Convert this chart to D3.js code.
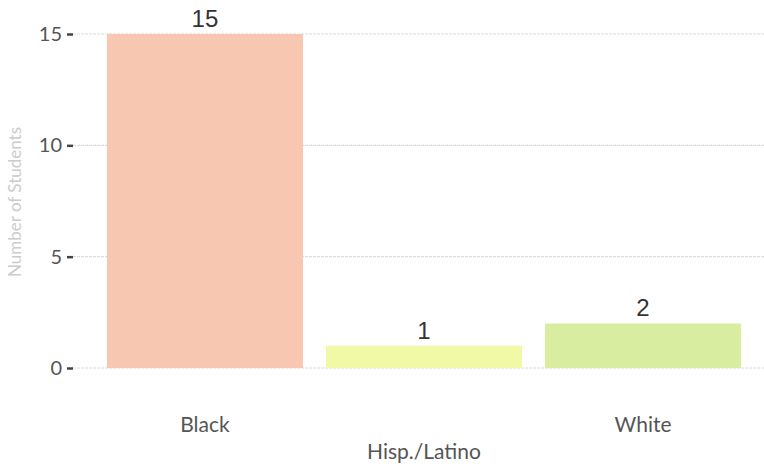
<!DOCTYPE html>
<html><head><meta charset="utf-8">
<script src="https://cdn.jsdelivr.net/npm/d3@7"></script>
<style>
body{margin:0;background:#fff;}
svg{display:block;}
</style></head>
<body>
<script>
const categories = ["Black", "Hisp./Latino", "White"];
const values = [15, 1, 2];
const colors = ["#f7c7b2", "#f1f8a6", "#d9eda0"];
const yTicks = [0, 5, 10, 15];
const yLabel = "Number of Students";

const W = 764, H = 466;
const svg = d3.select("body").append("svg").attr("width", W).attr("height", H);

const x = d3.scaleBand().domain(categories).range([96, 752]).paddingInner(0.105).paddingOuter(0.05);
const y = d3.scaleLinear().domain([0, 15]).range([368, 34]);

// gridlines
svg.append("g").selectAll("line").data(yTicks).join("line")
  .attr("x1", 73).attr("x2", W)
  .attr("y1", d => y(d)).attr("y2", d => y(d))
  .attr("stroke", "#dcdcdc").attr("stroke-width", 1.2).attr("stroke-dasharray", "3,1");

// bars
svg.append("g").selectAll("rect").data(categories).join("rect")
  .attr("x", d => x(d)).attr("width", x.bandwidth())
  .attr("y", (d, i) => y(values[i])).attr("height", (d, i) => y(0) - y(values[i]))
  .attr("fill", (d, i) => colors[i]);

// y axis
const yAxis = d3.axisLeft(y).tickValues(yTicks).tickSize(6).tickPadding(5);
const gy = svg.append("g").attr("transform", "translate(73,0)").call(yAxis);
gy.select(".domain").remove();
gy.selectAll(".tick line").attr("stroke", "#444").attr("stroke-width", 2.5);
gy.selectAll(".tick text").attr("fill", "#555").attr("font-family", "Lato, sans-serif").attr("font-size", 20);

// y label
svg.append("text").attr("transform", "translate(21,202) rotate(-90)")
  .attr("text-anchor", "middle").attr("font-family", "Lato, sans-serif")
  .attr("font-size", 17).attr("fill", "#cccccc").text(yLabel);

// x labels (staggered)
svg.append("g").selectAll("text").data(categories).join("text")
  .attr("x", d => x(d) + x.bandwidth() / 2)
  .attr("y", (d, i) => i % 2 === 1 ? 459 : 432)
  .attr("text-anchor", "middle").attr("font-family", "Lato, sans-serif")
  .attr("font-size", 21).attr("fill", "#555").text(d => d);

// value labels
svg.append("g").selectAll("text").data(categories).join("text")
  .attr("x", d => x(d) + x.bandwidth() / 2)
  .attr("y", (d, i) => y(values[i]) - 7)
  .attr("text-anchor", "middle").attr("font-family", "'Liberation Sans', Arial, sans-serif")
  .attr("font-size", 24).attr("fill", "#333").text((d, i) => values[i]);
</script>
</body></html>
